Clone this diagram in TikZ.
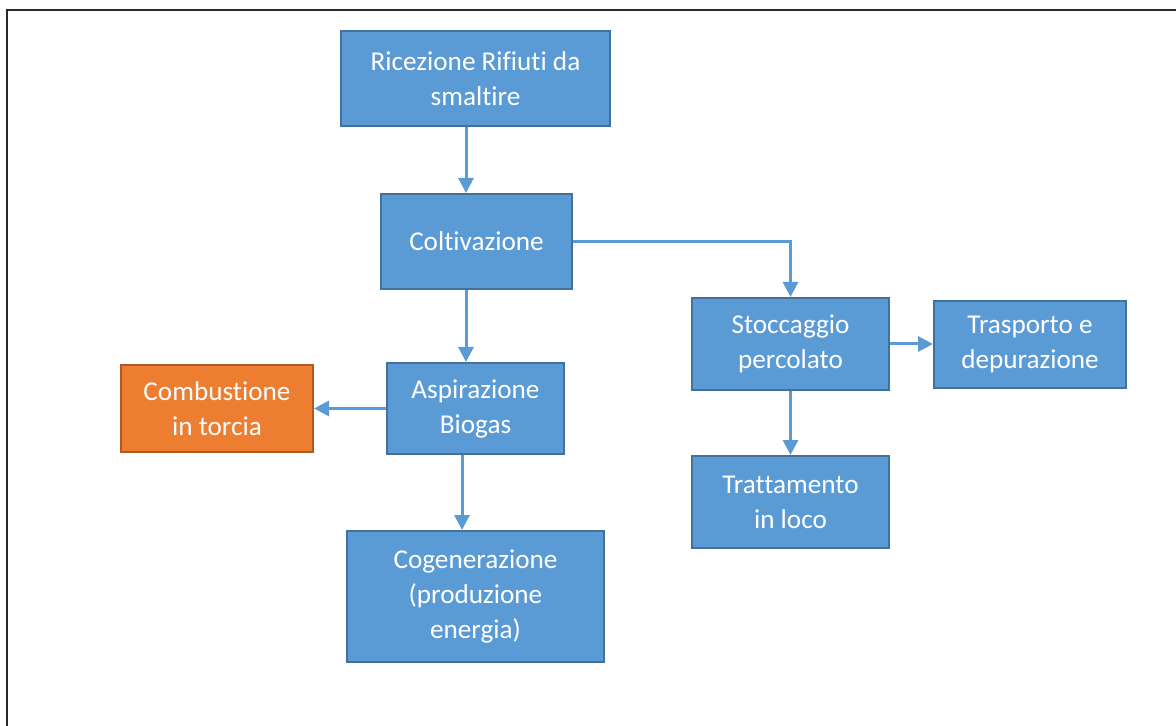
\documentclass[tikz,border=0pt]{standalone}
\usepackage{fontspec}
\setmainfont{Carlito}[Ligatures={NoCommon}]
\usetikzlibrary{arrows.meta}
\definecolor{boxblue}{HTML}{5B9BD5}
\definecolor{boxblueedge}{HTML}{41719C}
\definecolor{boxorange}{HTML}{ED7D31}
\definecolor{boxorangeedge}{HTML}{AE5A21}
\definecolor{frameline}{HTML}{2A2A2A}
\tikzset{
  bluebox/.style={draw=boxblueedge, fill=boxblue, line width=1pt, text=white,
    align=center, inner sep=0pt, font=\fontsize{13.6pt}{17.5pt}\selectfont},
  orangebox/.style={bluebox, draw=boxorangeedge, fill=boxorange},
  flow/.style={draw=boxblue, line width=1.5pt, -{Triangle[width=7.5pt,length=7.5pt]}}
}
\begin{document}
\begin{tikzpicture}[x=0.5pt,y=-0.5pt]
\useasboundingbox (0,0) rectangle (1176,726);
\draw[frameline, line width=1.1pt] (7,740) -- (7,10) -- (1190,10);
\node[bluebox, minimum width=134.5pt, minimum height=47.5pt] (ric) at (475.5,78.5) {Ricezione Rifiuti da\\smaltire};
\node[bluebox, minimum width=95.5pt, minimum height=47.5pt] (col) at (476.5,241.5) {Coltivazione};
\node[bluebox, minimum width=88.5pt, minimum height=45.5pt] (asp) at (475.5,408.5) {Aspirazione\\Biogas};
\node[orangebox, minimum width=96pt, minimum height=43.5pt] (com) at (217,408.5) {Combustione\\in torcia};
\node[bluebox, minimum width=128.5pt, minimum height=65.5pt] (cog) at (475.5,596.5) {Cogenerazione\\(produzione\\energia)};
\node[bluebox, minimum width=98.5pt, minimum height=46pt] (sto) at (790.5,344) {Stoccaggio\\percolato};
\node[bluebox, minimum width=98.5pt, minimum height=46pt] (tra) at (790.5,502) {Trattamento\\in loco};
\node[bluebox, minimum width=96pt, minimum height=43.5pt] (tsp) at (1030,344.5) {Trasporto e\\depurazione};
\draw[flow] (466,0 |- ric.south) -- (466,0 |- col.north);
\draw[flow] (466,0 |- col.south) -- (466,0 |- asp.north);
\draw[flow] (462,0 |- asp.south) -- (462,0 |- cog.north);
\draw[flow] (col.east |- 0,241.5) -| (sto.north);
\draw[flow] (asp.west) -- (com.east |- asp.west);
\draw[flow] (sto.east) -- (tsp.west |- sto.east);
\draw[flow] (sto.south) -- (tra.north);
\end{tikzpicture}
\end{document}
